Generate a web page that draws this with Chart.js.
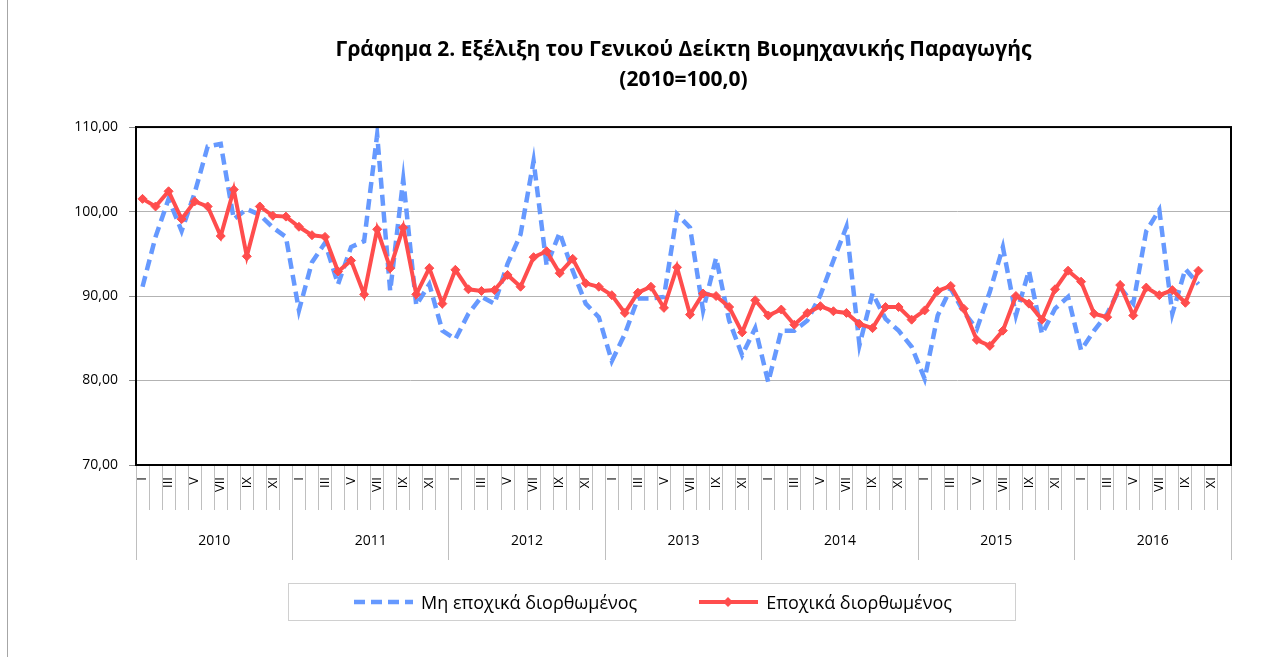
<!DOCTYPE html>
<html>
<head>
<meta charset="utf-8">
<script src="https://cdn.jsdelivr.net/npm/chart.js@4.4.1/dist/chart.umd.min.js"></script>
<style>
body { margin: 0; background: #fff; }
#wrap { position: relative; width: 1263px; height: 657px; }
#plaisio { position: absolute; left: 7px; top: 0; height: 657px; border-left: 1px solid #a6a6a6; }
#ypomnima {
  position: absolute; left: 288px; top: 583px; width: 726px; height: 36px;
  border: 1px solid #d0d0d0; display: flex; align-items: center; justify-content: center;
  font-family: 'Open Sans', 'Noto Sans', sans-serif; font-size: 18px; color: #000;
}
.item { display: flex; align-items: center; margin: 0 30px; }
.item svg { margin-right: 6px; }
</style>
</head>
<body>
<div id="wrap">
  <canvas id="grafima" width="1263" height="657"></canvas>
  <div id="plaisio"></div>
  <div id="ypomnima"></div>
</div>
<script>
// Δεδομένα (2010=100,0), μηνιαία Ιαν 2010 - Οκτ 2016
const years = ['2010', '2011', '2012', '2013', '2014', '2015', '2016'];
const monthLabels = ['I', '', 'III', '', 'V', '', 'VII', '', 'IX', '', 'XI', ''];
const yTicks = [70, 80, 90, 100, 110];

const mhEpoxika = [
  91.1, 97.0, 101.5, 97.7, 102.2, 107.7, 108.0, 99.1, 100.3, 99.6, 98.1, 97.0,
  88.3, 94.0, 96.3, 91.4, 95.8, 96.5, 109.1, 90.6, 103.8, 88.9, 91.4, 85.9,
  84.9, 87.9, 89.9, 89.1, 93.8, 97.3, 106.0, 93.6, 97.5, 93.0, 89.1, 87.5,
  82.3, 85.5, 89.7, 89.7, 89.9, 99.7, 98.1, 88.3, 94.5, 87.1, 83.0, 86.2,
  79.8, 85.9, 85.9, 87.1, 90.1, 94.2, 98.2, 84.2, 90.3, 87.3, 85.9, 84.0,
  80.2, 87.7, 90.9, 88.1, 86.1, 90.5, 95.8, 87.7, 93.0, 85.5, 88.5, 89.9,
  83.6, 85.9, 87.9, 91.0, 89.1, 97.7, 100.2, 87.9, 93.2, 91.4
];

const epoxika = [
  101.5, 100.6, 102.4, 99.1, 101.2, 100.6, 97.1, 102.6, 94.7, 100.6, 99.5, 99.4,
  98.2, 97.2, 97.0, 92.9, 94.2, 90.2, 97.9, 93.3, 98.1, 90.2, 93.3, 89.1,
  93.1, 90.8, 90.6, 90.7, 92.5, 91.1, 94.6, 95.3, 92.7, 94.4, 91.5, 91.1,
  90.1, 88.0, 90.4, 91.1, 88.6, 93.4, 87.8, 90.3, 90.0, 88.7, 85.7, 89.5,
  87.7, 88.4, 86.6, 88.0, 88.8, 88.2, 88.0, 86.7, 86.2, 88.7, 88.7, 87.2,
  88.3, 90.6, 91.2, 88.5, 84.8, 84.1, 85.9, 90.0, 89.1, 87.2, 90.8, 93.0,
  91.7, 87.9, 87.5, 91.3, 87.7, 91.0, 90.1, 90.7, 89.2, 93.0
];

Chart.defaults.font.family = "'Open Sans', 'Noto Sans', sans-serif";
Chart.defaults.color = '#000';

const labels = [];
years.forEach(() => monthLabels.forEach(m => labels.push(m)));

// περίγραμμα της περιοχής σχεδίασης
const plaisio = {
  id: 'plaisio',
  afterDraw(chart) {
    const a = chart.chartArea;
    const c = chart.ctx;
    c.save();
    c.strokeStyle = '#000';
    c.lineWidth = 2;
    c.strokeRect(a.left, a.top, a.right - a.left, a.bottom - a.top);
    c.restore();
  }
};

const ctx = document.getElementById('grafima');

const chart = new Chart(ctx, {
  type: 'line',
  data: {
    labels: labels,
    datasets: [{
      label: 'Μη εποχικά διορθωμένος',
      data: mhEpoxika,
      borderColor: '#6699ff',
      backgroundColor: '#6699ff',
      borderWidth: 4.5,
      borderDash: [11, 6],
      pointRadius: 0,
      tension: 0,
      order: 2
    }, {
      label: 'Εποχικά διορθωμένος',
      data: epoxika,
      borderColor: '#ff4d4d',
      backgroundColor: '#ff4d4d',
      borderWidth: 4,
      pointStyle: 'rectRot',
      pointRadius: 4.5,
      pointBorderWidth: 1,
      tension: 0,
      order: 1
    }]
  },
  options: {
    responsive: false,
    animation: false,
    layout: { padding: { left: 8, right: 32, top: 35, bottom: 97 } },
    plugins: {
      legend: { display: false },
      tooltip: { enabled: false },
      title: {
        display: true,
        fullSize: false,
        text: ['Γράφημα 2. Εξέλιξη του Γενικού Δείκτη Βιομηχανικής Παραγωγής', '(2010=100,0)'],
        color: '#000',
        font: { size: 21, weight: 'bold', lineHeight: 1.43 },
        padding: { top: 0, bottom: 32 }
      }
    },
    scales: {
      x: {
        offset: true,
        afterFit: s => { s.height = 45; },
        grid: { offset: true, drawOnChartArea: false, tickLength: 45, color: '#bfbfbf' },
        border: { color: '#000', width: 2 },
        ticks: { autoSkip: false, maxRotation: 90, minRotation: 90, padding: -33, font: { size: 13 } }
      },
      x2: {
        type: 'category',
        labels: years,
        position: 'bottom',
        offset: true,
        weight: 1,
        afterFit: s => { s.height = 50; },
        grid: { offset: true, drawOnChartArea: false, tickLength: 50, color: '#bfbfbf' },
        border: { display: false },
        ticks: { autoSkip: false, maxRotation: 0, padding: -27, font: { size: 14 } }
      },
      y: {
        min: 70,
        max: 110,
        afterBuildTicks: s => { s.ticks = yTicks.map(v => ({ value: v })); },
        afterFit: s => { s.width = 128; },
        grid: { color: '#b3b3b3', tickLength: 7, tickColor: '#8c8c8c' },
        border: { color: '#000', width: 2 },
        ticks: { padding: 11, font: { size: 14 }, callback: v => v.toFixed(2).replace('.', ',') }
      }
    }
  },
  plugins: [plaisio]
});

// υπόμνημα από τα σύνολα δεδομένων του γραφήματος
const ypomnima = document.getElementById('ypomnima');
chart.data.datasets.forEach(ds => {
  const item = document.createElement('div');
  item.className = 'item';
  const dash = ds.borderDash ? ds.borderDash.join(',') : 'none';
  let marker = '';
  if (ds.pointRadius > 0) {
    marker = '<polygon points="31,1 36,6 31,11 26,6" fill="' + ds.borderColor + '"/>';
  }
  item.innerHTML =
    '<svg width="63" height="12"><line x1="2" y1="6" x2="61" y2="6" stroke="' + ds.borderColor +
    '" stroke-width="' + ds.borderWidth + '" stroke-dasharray="' + dash + '"/>' + marker + '</svg>' +
    '<span>' + ds.label + '</span>';
  ypomnima.appendChild(item);
});
</script>
</body>
</html>
